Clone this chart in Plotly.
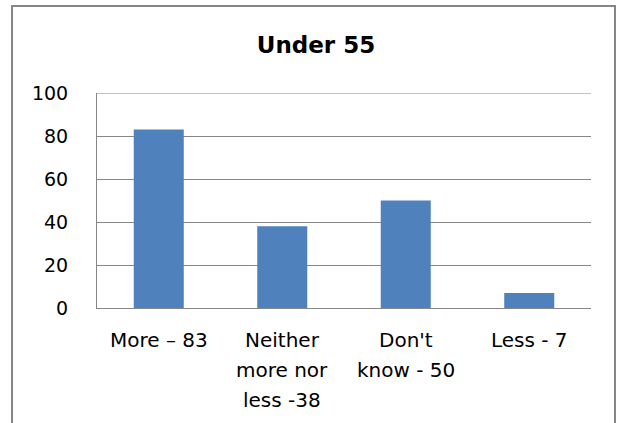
import plotly.graph_objects as go

categories = ["More – 83", "Neither more nor less -38", "Don't know - 50", "Less - 7"]
label_lines = [["More – 83"], ["Neither", "more nor", "less -38"], ["Don't", "know - 50"], ["Less - 7"]]
values = [83, 38, 50, 7]
y_ticks = [0, 20, 40, 60, 80, 100]

FONT = "DejaVu Sans"
GRID = "#868686"

fig = go.Figure(
    go.Bar(
        x=categories,
        y=values,
        marker=dict(color="#4F81BD", line=dict(width=0)),
        width=0.405,
    )
)

# multi-line category labels under the axis
annotations = []
for cat, lines in zip(categories, label_lines):
    for i, line in enumerate(lines):
        annotations.append(dict(
            x=cat, xref="x", y=0, yref="paper",
            text=line, showarrow=False,
            yanchor="top", xanchor="center",
            yshift=-18 - 30 * i,
            font=dict(family=FONT, size=20, color="#000000"),
        ))

fig.update_layout(
    width=623, height=423,
    margin=dict(l=97, r=32, t=93, b=115),
    paper_bgcolor="white", plot_bgcolor="white",
    showlegend=False,
    title=dict(
        text="<b>Under 55</b>", x=316 / 623, xanchor="center",
        y=1 - 45 / 423, yanchor="middle",
        font=dict(family=FONT, size=23, color="#000000"),
    ),
    xaxis=dict(
        showticklabels=False, showgrid=False, ticks="",
        showline=True, linecolor=GRID, linewidth=1,
    ),
    yaxis=dict(
        range=[0, 100], tickvals=y_ticks, ticks="",
        showgrid=True, gridcolor=GRID, gridwidth=1,
        showline=True, linecolor=GRID, linewidth=1,
        zeroline=False,
        tickfont=dict(family=FONT, size=19, color="#000000"),
        ticklabelstandoff=24,
    ),
    annotations=annotations,
    shapes=[
        # outer chart frame
        dict(
            type="rect", xref="paper", yref="paper",
            x0=-0.172, x1=1.0486, y0=-0.56, y1=1.4047,
            line=dict(color=GRID, width=2), fillcolor="rgba(0,0,0,0)",
            layer="below",
        ),
        # top gridline at the axis maximum
        dict(
            type="line", xref="paper", yref="y",
            x0=0, x1=1, y0=y_ticks[-1], y1=y_ticks[-1],
            line=dict(color=GRID, width=1),
        ),
    ],
)

fig.write_html("out.html")
